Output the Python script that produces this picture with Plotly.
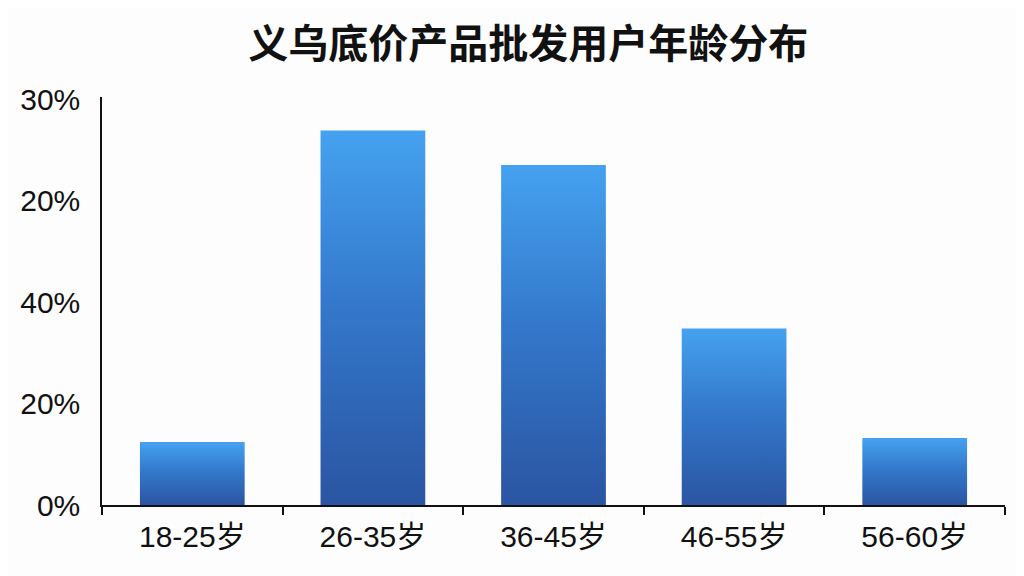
import plotly.graph_objects as go

# 数据
age_groups = ["18-25岁", "26-35岁", "36-45岁", "46-55岁", "56-60岁"]
shares = [6.2, 36.9, 33.5, 17.4, 6.6]
y_tick_vals = [0, 10, 20, 30, 40]
y_tick_text = ["0%", "20%", "40%", "20%", "30%"]

half_w = 0.29
fig = go.Figure()

# 渐变柱子：每根柱子一个闭合的 scatter 填充
for i, v in enumerate(shares):
    fig.add_trace(go.Scatter(
        x=[i - half_w, i + half_w, i + half_w, i - half_w, i - half_w],
        y=[0, 0, v, v, 0],
        mode="lines",
        line=dict(width=0),
        fill="toself",
        fillgradient=dict(
            type="vertical",
            start=0,
            stop=v,
            colorscale=[[0, "#2a55a2"], [0.55, "#3479cc"], [1, "#45a2f0"]],
        ),
        hoverinfo="skip",
        showlegend=False,
    ))

# 页面有 8px 的 body 边距，这里的边距已经扣掉
fig.update_layout(
    width=1024,
    height=576,
    paper_bgcolor="#fdfdfd",
    plot_bgcolor="#fdfdfd",
    margin=dict(l=94, r=27, t=89, b=79),
    font=dict(family="Liberation Sans, Noto Sans CJK SC, sans-serif", color="#111111"),
    title=dict(
        text="<b>义乌底价产品批发用户年龄分布</b>",
        x=0.508,
        xanchor="center",
        y=0.938,
        yanchor="middle",
        font=dict(size=40, family="Noto Sans CJK SC, sans-serif", color="#111111"),
    ),
)

fig.update_xaxes(
    range=[-0.5, len(age_groups) - 0.5],
    tickvals=list(range(len(age_groups))),
    ticktext=age_groups,
    ticks="",
    showgrid=False,
    zeroline=False,
    showline=True,
    linecolor="#111111",
    linewidth=1.5,
    tickfont=dict(size=30),
    ticklabelstandoff=4,
    automargin=False,
    minor=dict(
        tickvals=[i - 0.5 for i in range(len(age_groups) + 1)],
        ticks="outside",
        ticklen=8,
        tickwidth=1.5,
        tickcolor="#111111",
        showgrid=False,
    ),
)

fig.update_yaxes(
    range=[0, 40.2],
    tickvals=y_tick_vals,
    ticktext=y_tick_text,
    ticks="",
    showgrid=False,
    zeroline=False,
    showline=True,
    linecolor="#111111",
    linewidth=1.5,
    tickfont=dict(size=30),
    ticklabelstandoff=14,
    automargin=False,
)

fig.write_html("out.html")
